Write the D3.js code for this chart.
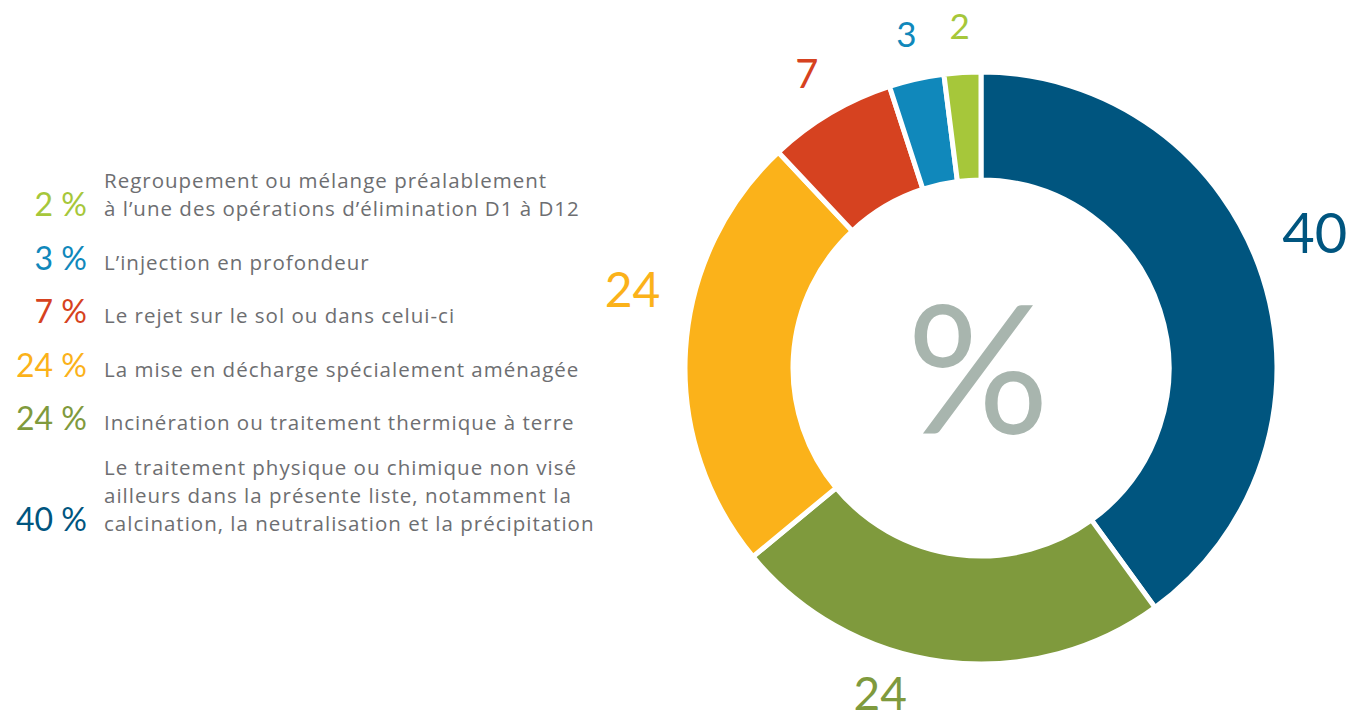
<!DOCTYPE html>
<html>
<head>
<meta charset="utf-8">
<script src="https://cdn.jsdelivr.net/npm/d3@7/dist/d3.min.js"></script>
<style>
  html, body { margin: 0; padding: 0; background: #ffffff; }
  svg { display: block; }
</style>
</head>
<body>
<svg id="chart" width="1351" height="719"></svg>
<script>
// ---- data ----
const categories = [
  "Le traitement physique ou chimique non visé ailleurs dans la présente liste, notamment la calcination, la neutralisation et la précipitation",
  "Incinération ou traitement thermique à terre",
  "La mise en décharge spécialement aménagée",
  "Le rejet sur le sol ou dans celui-ci",
  "L’injection en profondeur",
  "Regroupement ou mélange préalablement à l’une des opérations d’élimination D1 à D12"
];
const values = [40, 24, 24, 7, 3, 2];
const colors = ["#00557f", "#7f9a3d", "#fbb21a", "#d64220", "#1088bb", "#a6c73a"];
// legend lines (legend order: top to bottom)
const legendOrder = [5, 4, 3, 2, 1, 0];
const legendLines = [
  ["Le traitement physique ou chimique non visé", "ailleurs dans la présente liste, notamment la", "calcination, la neutralisation et la précipitation"],
  ["Incinération ou traitement thermique à terre"],
  ["La mise en décharge spécialement aménagée"],
  ["Le rejet sur le sol ou dans celui-ci"],
  ["L’injection en profondeur"],
  ["Regroupement ou mélange préalablement", "à l’une des opérations d’élimination D1 à D12"]
];

// ---- layout ----
const W = 1351, H = 719;
const cx = 981, cy = 368, rOuter = 296, rInner = 188;
const labelLayout = [ // per slice: angle shift (deg), radius, font size
  { shift: -4, r: 360, size: 56 },
  { shift: 10, r: 341, size: 46 },
  { shift: 9, r: 357, size: 48 },
  { shift: 0, r: 342, size: 40 },
  { shift: 0, r: 342, size: 35 },
  { shift: 0, r: 342, size: 35 }
];
const numFont = "Lato, 'Open Sans', sans-serif";
const textFont = "'Open Sans', Lato, sans-serif";

const svg = d3.select("#chart");

const pie = d3.pie().sort(null).value(d => d)(values);
const arc = d3.arc().innerRadius(rInner).outerRadius(rOuter);

const g = svg.append("g").attr("transform", `translate(${cx},${cy})`);
g.selectAll("path.slice")
  .data(pie)
  .join("path")
  .attr("class", "slice")
  .attr("d", arc)
  .attr("fill", (d, i) => colors[i])
  .attr("stroke", "#ffffff")
  .attr("stroke-width", 5)
  .attr("stroke-linejoin", "miter");

// outer value labels
g.selectAll("text.val")
  .data(pie)
  .join("text")
  .attr("class", "val")
  .each(function(d, i) {
    const L = labelLayout[i];
    const a = (d.startAngle + d.endAngle) / 2 + L.shift * Math.PI / 180;
    const x = Math.sin(a) * L.r, y = -Math.cos(a) * L.r;
    d3.select(this)
      .attr("x", x).attr("y", y)
      .attr("dy", "0.36em")
      .attr("text-anchor", "middle")
      .attr("font-family", numFont)
      .attr("font-size", L.size)
      .attr("fill", colors[i])
      .text(values[i]);
  });

// centre percent sign
g.append("text")
  .attr("x", -3).attr("y", 65)
  .attr("text-anchor", "middle")
  .attr("font-family", numFont)
  .attr("font-size", 178)
  .attr("fill", "#a8b5ae")
  .text("%");

// ---- legend ----
const pctRight = 87, textLeft = 104, lineH = 28;
let prevBase = null;
const lg = svg.append("g");
legendOrder.forEach((idx, row) => {
  const lines = legendLines[idx];
  let firstBase;
  if (prevBase === null) firstBase = 188;
  else firstBase = prevBase + (lines.length > 1 ? 45 : 53.5);
  const lastBase = firstBase + (lines.length - 1) * lineH;
  lg.append("text")
    .attr("x", pctRight).attr("y", lastBase)
    .attr("text-anchor", "end")
    .attr("font-family", numFont)
    .attr("font-size", 32)
    .attr("fill", colors[idx])
    .text(values[idx] + " %");
  lines.forEach((ln, k) => {
    lg.append("text")
      .attr("x", textLeft).attr("y", firstBase + k * lineH)
      .attr("font-family", textFont)
      .attr("font-size", 20.5)
      .attr("letter-spacing", 1.0)
      .attr("fill", "#6d6e71")
      .text(ln);
  });
  prevBase = lastBase;
});
</script>
</body>
</html>
